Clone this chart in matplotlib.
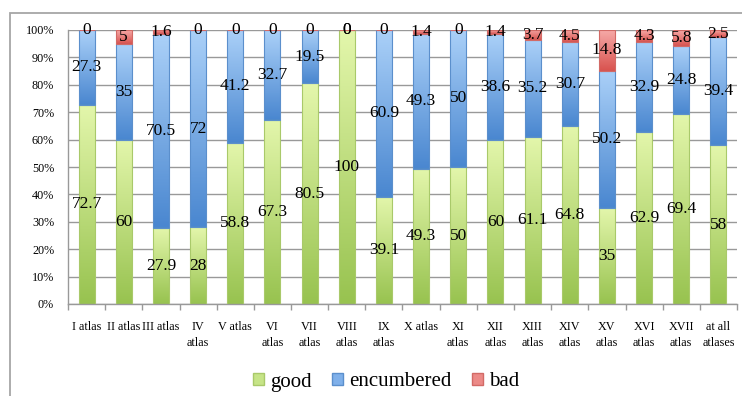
import numpy as np
import matplotlib
matplotlib.use("Agg")
import matplotlib.pyplot as plt
from matplotlib.colors import LinearSegmentedColormap
from matplotlib.patches import Patch, Rectangle
from matplotlib.ticker import FuncFormatter, MultipleLocator, FixedLocator

plt.rcParams['font.family'] = ['Liberation Serif', 'DejaVu Serif']

categories = ["I atlas", "II atlas", "III atlas", "IV\natlas", "V atlas", "VI\natlas",
              "VII\natlas", "VIII\natlas", "IX\natlas", "X atlas", "XI\natlas",
              "XII\natlas", "XIII\natlas", "XIV\natlas", "XV\natlas", "XVI\natlas",
              "XVII\natlas", "at all\natlases"]
good = [72.7, 60, 27.9, 28, 58.8, 67.3, 80.5, 100, 39.1, 49.3, 50, 60, 61.1, 64.8, 35, 62.9, 69.4, 58]
encumbered = [27.3, 35, 70.5, 72, 41.2, 32.7, 19.5, 0, 60.9, 49.3, 50, 38.6, 35.2, 30.7, 50.2, 32.9, 24.8, 39.4]
bad = [0, 5, 1.6, 0, 0, 0, 0, 0, 0, 1.4, 0, 1.4, 3.7, 4.5, 14.8, 4.3, 5.8, 2.5]

# name, values, gradient top, gradient bottom, outline, legend swatch
series = [
    ("good", good, "#e3f6ab", "#98c350", "#a9c96a", "#c6e487"),
    ("encumbered", encumbered, "#aad0f8", "#4a87d0", "#5b8fcc", "#7fb0ea"),
    ("bad", bad, "#f6a9a7", "#d9534f", "#d26a66", "#ec8a87"),
]

fig = plt.figure(figsize=(7.42, 3.96), dpi=100)
ax = fig.add_axes([68 / 742, 1 - 304 / 396, (737 - 68) / 742, (304 - 30) / 396])

# outer chart frame
fig.patches.append(Rectangle((10 / 742, -0.05), 1.0, 1 - 13 / 396 + 0.05,
                             transform=fig.transFigure, fill=False,
                             edgecolor="#a6a6a6", linewidth=1.3, zorder=0))

x = np.arange(len(categories))
width = 0.43
bottom = np.zeros(len(categories))
grad = np.linspace(1, 0, 64).reshape(-1, 1)

for name, vals, top_c, bot_c, edge_c, _ in series:
    vals = np.asarray(vals, dtype=float)
    bars = ax.bar(x, vals, width, bottom=bottom, facecolor="none",
                  edgecolor=edge_c, linewidth=0.8, zorder=3)
    cmap = LinearSegmentedColormap.from_list(name, [bot_c, top_c])
    for rect, v in zip(bars, vals):
        if v <= 0:
            continue
        x0, y0 = rect.get_x(), rect.get_y()
        im = ax.imshow(grad, cmap=cmap, vmin=0, vmax=1, aspect="auto",
                       interpolation="bilinear",
                       extent=(x0, x0 + rect.get_width(), y0, y0 + rect.get_height()),
                       zorder=2)
        im.set_clip_path(rect)
    for xi, b, v in zip(x, bottom, vals):
        ax.text(xi, b + v / 2, f"{v:g}", ha="center", va="center", fontsize=12.5,
                color="black", zorder=5)
    bottom = bottom + vals

ax.set_xlim(-0.5, len(categories) - 0.5)
ax.set_ylim(0, 100)
ax.yaxis.set_major_locator(MultipleLocator(10))
ax.yaxis.set_major_formatter(FuncFormatter(lambda v, p: f"{v:.0f}%"))
ax.grid(axis="y", color="#999999", linewidth=1.0, zorder=0)
ax.set_axisbelow(True)

ax.set_xticks(x)
ax.set_xticklabels(categories, fontsize=8.7, linespacing=1.45)
ax.xaxis.set_minor_locator(FixedLocator(np.arange(-0.5, len(categories), 1.0)))
ax.tick_params(axis="x", which="major", length=0, pad=12)
ax.tick_params(axis="x", which="minor", length=4, color="#999999", width=1)
ax.tick_params(axis="y", length=0, pad=10, labelsize=8.7)

for s in ("top", "right"):
    ax.spines[s].set_visible(False)
for s in ("left", "bottom"):
    ax.spines[s].set_color("#999999")
    ax.spines[s].set_linewidth(1.0)

handles = [Patch(facecolor=s[5], edgecolor=s[4], label=s[0]) for s in series]
fig.legend(handles=handles, loc="center", bbox_to_anchor=(386 / 742, 1 - 382 / 396),
           ncol=3, frameon=False, fontsize=15, handlelength=0.55, handleheight=0.55,
           handletextpad=0.3, columnspacing=0.95)

fig.savefig("out.png", dpi=100)
